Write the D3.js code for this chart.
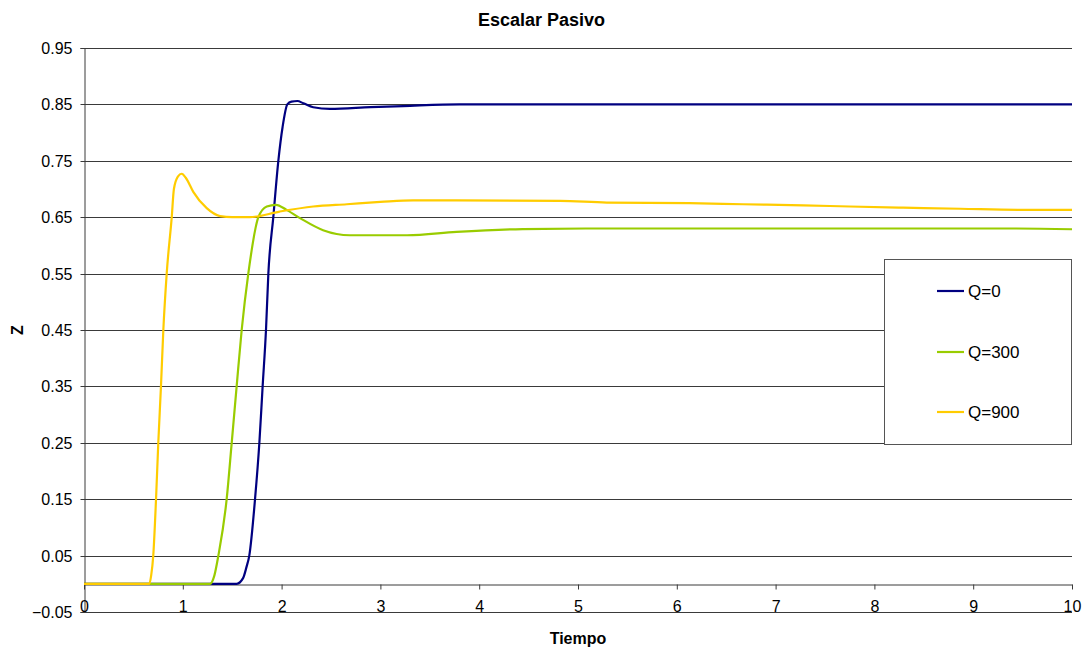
<!DOCTYPE html>
<html>
<head>
<meta charset="utf-8">
<script src="https://cdn.jsdelivr.net/npm/d3@7"></script>
<style>
  html, body { margin: 0; padding: 0; background: #fff; }
  svg text { font-family: "Liberation Sans", Arial, sans-serif; fill: #000; }
</style>
</head>
<body>
<svg id="chart" width="1083" height="648"></svg>
<script>
// Time samples and Z values for each Q case
const tQ0   = [0, 1.50, 1.545, 1.61, 1.645, 1.673, 1.731, 1.775, 1.808, 1.842, 1.866, 1.916, 1.967, 2.01, 2.058, 2.10, 2.16, 2.22, 2.32, 2.49, 2.90, 3.23, 3.80, 10];
const zQ0   = [0, 0, 0, 0.01, 0.03, 0.05, 0.15, 0.25, 0.35, 0.45, 0.55, 0.65, 0.75, 0.81, 0.85, 0.855, 0.856, 0.852, 0.845, 0.842, 0.845, 0.847, 0.850, 0.850];

const tQ300 = [0, 1.275, 1.32, 1.36, 1.444, 1.495, 1.545, 1.596, 1.663, 1.765, 1.85, 1.943, 2.05, 2.19, 2.42, 2.69, 3.27, 3.77, 4.44, 5.08, 9.34, 10];
const zQ300 = [0, 0, 0.015, 0.05, 0.15, 0.25, 0.35, 0.45, 0.55, 0.65, 0.669, 0.672, 0.663, 0.648, 0.627, 0.618, 0.618, 0.624, 0.629, 0.630, 0.630, 0.6286];

const tQ900 = [0, 0.661, 0.68, 0.701, 0.729, 0.752, 0.779, 0.803, 0.837, 0.888, 0.91, 0.95, 0.989, 1.03, 1.106, 1.242, 1.377, 1.50, 1.68, 1.98, 2.32, 2.66, 3.0, 3.33, 4.82, 5.29, 6.13, 6.67, 7.28, 7.75, 8.29, 8.87, 9.49, 10];
const zQ900 = [0, 0, 0.015, 0.05, 0.15, 0.25, 0.35, 0.45, 0.55, 0.65, 0.70, 0.722, 0.727, 0.72, 0.695, 0.666, 0.652, 0.650, 0.650, 0.660, 0.669, 0.673, 0.677, 0.680, 0.679, 0.676, 0.675, 0.673, 0.671, 0.669, 0.667, 0.665, 0.663, 0.663];

const seriesNames  = ["Q=0", "Q=300", "Q=900"];
const seriesColors = ["#000080", "#99CC00", "#FFCC00"];

const yTicks = [-0.05, 0.05, 0.15, 0.25, 0.35, 0.45, 0.55, 0.65, 0.75, 0.85, 0.95];
const xTicks = [0, 1, 2, 3, 4, 5, 6, 7, 8, 9, 10];

const series = [
  { name: seriesNames[0], color: seriesColors[0], pts: tQ0.map((t, i) => [t, zQ0[i]]) },
  { name: seriesNames[1], color: seriesColors[1], pts: tQ300.map((t, i) => [t, zQ300[i]]) },
  { name: seriesNames[2], color: seriesColors[2], pts: tQ900.map((t, i) => [t, zQ900[i]]) }
];

const svg = d3.select("#chart");
const plot = { left: 84, right: 1072, top: 48, bottom: 612 };

const x = d3.scaleLinear().domain([0, 10]).range([plot.left, plot.right]);
const y = d3.scaleLinear().domain([-0.05, 0.95]).range([plot.bottom, plot.top]);

const gridColor = "#3a3a3a";

// horizontal gridlines
svg.append("g")
  .selectAll("line")
  .data(yTicks)
  .join("line")
  .attr("x1", plot.left).attr("x2", plot.right)
  .attr("y1", d => Math.round(y(d)) + 0.5).attr("y2", d => Math.round(y(d)) + 0.5)
  .attr("stroke", gridColor).attr("stroke-width", 1);

// value axis on the left
const yAxis = d3.axisLeft(y).tickValues(yTicks).tickSize(4).tickPadding(8)
  .tickFormat(d3.format(".2f"));
const gy = svg.append("g").attr("transform", `translate(${plot.left + 0.5},0)`).call(yAxis);
gy.select(".domain").attr("stroke", gridColor);
gy.selectAll(".tick line").attr("stroke", gridColor);
gy.selectAll(".tick text").style("font-size", "16px").attr("fill", "#000");
gy.selectAll(".tick").attr("transform", d => `translate(0,${Math.round(y(d)) + 0.5})`);

// time axis, crossing at Z = 0
const gx = svg.append("g").attr("transform", `translate(0,${Math.round(y(0)) + 0.5})`)
  .call(d3.axisBottom(x).tickValues(xTicks).tickSize(5).tickSizeOuter(0).tickFormat(d3.format("d")));
gx.select(".domain").attr("stroke", gridColor);
gx.selectAll(".tick line").attr("stroke", gridColor);
gx.selectAll(".tick text")
  .style("font-size", "16px").attr("fill", "#000")
  .attr("y", null).attr("dy", null)
  .attr("transform", `translate(0,${plot.bottom - Math.round(y(0)) - 0.5})`);

// data lines
const line = d3.line().x(d => x(d[0])).y(d => y(d[1])).curve(d3.curveMonotoneX);
svg.append("g")
  .selectAll("path")
  .data(series)
  .join("path")
  .attr("d", d => line(d.pts))
  .attr("fill", "none")
  .attr("stroke", d => d.color)
  .attr("stroke-width", 2.2)
  .attr("stroke-linejoin", "round");

// legend
const legend = svg.append("g");
legend.append("rect")
  .attr("x", 884.5).attr("y", 259.5).attr("width", 187).attr("height", 185)
  .attr("fill", "#fff").attr("stroke", "#555").attr("stroke-width", 1);
const legendRows = [291, 352, 412];
const items = legend.selectAll("g.item").data(series).join("g").attr("class", "item")
  .attr("transform", (d, i) => `translate(0,${legendRows[i]})`);
items.append("line")
  .attr("x1", 937).attr("x2", 964).attr("y1", 0).attr("y2", 0)
  .attr("stroke", d => d.color).attr("stroke-width", 2.2);
items.append("text")
  .attr("x", 968).attr("y", 0).attr("dy", "0.36em")
  .style("font-size", "17px").text(d => d.name);

// titles
svg.append("text")
  .attr("x", 541.5).attr("y", 26).attr("text-anchor", "middle")
  .style("font-size", "18px").style("font-weight", "bold").text("Escalar Pasivo");
svg.append("text")
  .attr("x", (plot.left + plot.right) / 2).attr("y", 644).attr("text-anchor", "middle")
  .style("font-size", "16px").style("font-weight", "bold").text("Tiempo");
svg.append("text")
  .attr("transform", `translate(23,${(plot.top + plot.bottom) / 2}) rotate(-90)`)
  .attr("text-anchor", "middle")
  .style("font-size", "16px").style("font-weight", "bold").text("Z");
</script>
</body>
</html>
